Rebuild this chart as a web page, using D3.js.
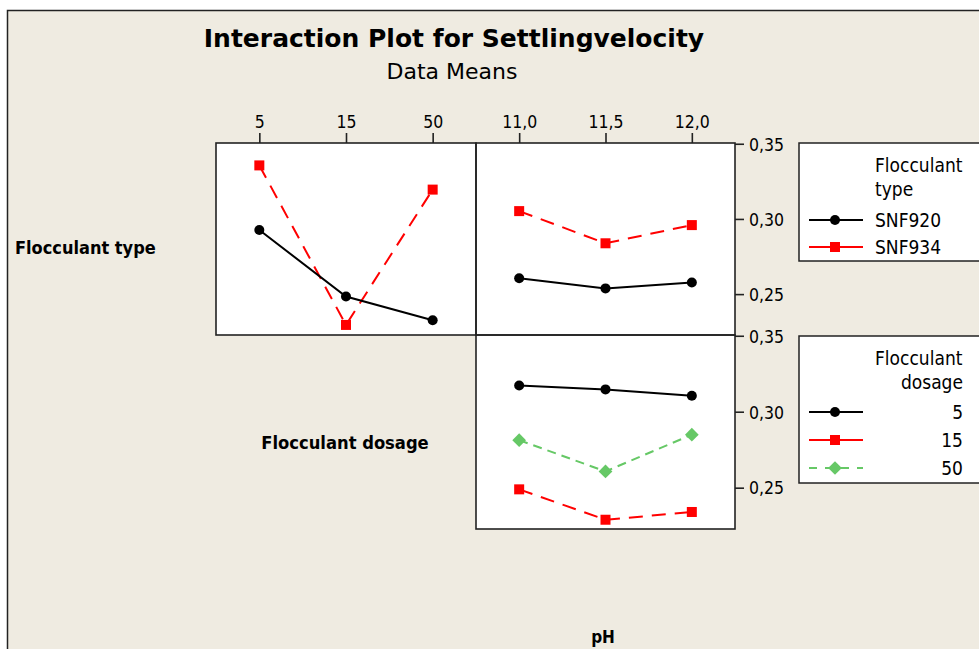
<!DOCTYPE html>
<html>
<head>
<meta charset="utf-8">
<script src="https://cdn.jsdelivr.net/npm/d3@7"></script>
<style>
  html, body { margin: 0; padding: 0; background: #ffffff; }
  svg { display: block; }
  .cond { font-family: "DejaVu Sans Condensed", "DejaVu Sans", sans-serif; font-stretch: condensed; }
</style>
</head>
<body>
<svg id="chart" width="979" height="649"></svg>
<script>
// ---------------- data ----------------
const title = "Interaction Plot for Settlingvelocity";
const subtitle = "Data Means";
const dosageLevels = ["5", "15", "50"];
const pHLevels = ["11,0", "11,5", "12,0"];
const typeLevels = ["SNF920", "SNF934"];
const yTicks = [0.25, 0.30, 0.35];
const yTickLabels = ["0,25", "0,30", "0,35"];

// Flocculant type (series) vs Flocculant dosage (x)
const snf920ByDosage = [0.2926, 0.2484, 0.2326];
const snf934ByDosage = [0.3356, 0.2295, 0.3195];
// Flocculant type (series) vs pH (x)
const snf920ByPH = [0.2606, 0.2538, 0.2577];
const snf934ByPH = [0.3052, 0.2838, 0.2959];
// Flocculant dosage (series) vs pH (x)
const dose5ByPH = [0.3173, 0.3147, 0.3105];
const dose15ByPH = [0.2489, 0.2289, 0.2340];
const dose50ByPH = [0.2813, 0.2607, 0.2849];

// ---------------- styles ----------------
const BG = "#EFEBE1";
const styles = {
  black: { color: "#000000", dash: null, shape: "circle" },
  red:   { color: "#FF0000", dash: "14,9", shape: "square" },
  green: { color: "#66C866", dash: "9,6", shape: "diamond" }
};

const svg = d3.select("#chart");

// background frame
svg.append("rect").attr("x", 0).attr("y", 0).attr("width", 979).attr("height", 649).attr("fill", "#ffffff");
svg.append("rect").attr("x", 7.5).attr("y", 10.5).attr("width", 990).attr("height", 660)
  .attr("fill", BG).attr("stroke", "#222").attr("stroke-width", 1.5);

// titles
svg.append("text").attr("x", 454).attr("y", 47).attr("text-anchor", "middle")
  .attr("font-family", "DejaVu Sans").attr("font-weight", "bold").attr("font-size", 25)
  .attr("fill", "#000").text(title);
svg.append("text").attr("x", 452).attr("y", 79).attr("text-anchor", "middle")
  .attr("font-family", "DejaVu Sans").attr("font-size", 22)
  .attr("fill", "#000").text(subtitle);

// layout of panels
const colX = [[216, 476], [476, 735]];
const rowY = [[143, 335], [335, 529]];
const yDomain = [0.2228, 0.3505];

function xScale(col, levels) {
  return d3.scalePoint().domain(levels).range(colX[col]).padding(0.5);
}
function yScale(row) {
  return d3.scaleLinear().domain(yDomain).range([rowY[row][1], rowY[row][0]]);
}

function panelRect(col, row) {
  svg.append("rect")
    .attr("x", colX[col][0]).attr("y", rowY[row][0])
    .attr("width", colX[col][1] - colX[col][0]).attr("height", rowY[row][1] - rowY[row][0])
    .attr("fill", "#ffffff");
}
function panelBorder(col, row) {
  svg.append("rect")
    .attr("x", colX[col][0]).attr("y", rowY[row][0])
    .attr("width", colX[col][1] - colX[col][0]).attr("height", rowY[row][1] - rowY[row][0])
    .attr("fill", "none").attr("stroke", "#222").attr("stroke-width", 1.6);
}

function marker(g, shape, x, y, color) {
  if (shape === "circle") {
    g.append("circle").attr("cx", x).attr("cy", y).attr("r", 5).attr("fill", color);
  } else if (shape === "square") {
    g.append("rect").attr("x", x - 5).attr("y", y - 5).attr("width", 10).attr("height", 10).attr("fill", color);
  } else {
    g.append("path").attr("d", d3.symbol(d3.symbolDiamond2, 120)()).attr("transform", `translate(${x},${y})`).attr("fill", color);
  }
}

function drawSeries(col, row, levels, values, st) {
  const x = xScale(col, levels), y = yScale(row);
  const g = svg.append("g");
  const line = d3.line().x((d, i) => x(levels[i])).y(d => y(d));
  g.append("path").datum(values).attr("d", line).attr("fill", "none")
    .attr("stroke", st.color).attr("stroke-width", 2)
    .attr("stroke-dasharray", st.dash);
  values.forEach((v, i) => marker(g, st.shape, x(levels[i]), y(v), st.color));
}

// panels
panelRect(0, 0); panelRect(1, 0); panelRect(1, 1);

drawSeries(0, 0, dosageLevels, snf934ByDosage, styles.red);
drawSeries(0, 0, dosageLevels, snf920ByDosage, styles.black);
drawSeries(1, 0, pHLevels, snf934ByPH, styles.red);
drawSeries(1, 0, pHLevels, snf920ByPH, styles.black);
drawSeries(1, 1, pHLevels, dose5ByPH, styles.black);
drawSeries(1, 1, pHLevels, dose15ByPH, styles.red);
drawSeries(1, 1, pHLevels, dose50ByPH, styles.green);

panelBorder(0, 0); panelBorder(1, 0); panelBorder(1, 1);

// top x axes
function topAxis(col, levels) {
  const x = xScale(col, levels);
  const ax = d3.axisTop(x).tickSize(10).tickSizeOuter(0);
  const g = svg.append("g").attr("transform", `translate(0,${rowY[0][0]})`).call(ax);
  g.select(".domain").remove();
  g.selectAll(".tick line").attr("stroke", "#222").attr("stroke-width", 1.6);
  g.selectAll(".tick text").attr("class", "cond").attr("font-size", 17.5).attr("fill", "#000")
    .attr("y", -15).attr("dy", 0);
}
topAxis(0, dosageLevels);
topAxis(1, pHLevels);

// right y axes
function rightAxis(row) {
  const y = yScale(row);
  const ax = d3.axisRight(y).tickValues(yTicks).tickSize(9).tickSizeOuter(0)
    .tickFormat((d, i) => yTickLabels[i]);
  const g = svg.append("g").attr("transform", `translate(${colX[1][1]},0)`).call(ax);
  g.select(".domain").remove();
  g.selectAll(".tick line").attr("stroke", "#222").attr("stroke-width", 1.6);
  g.selectAll(".tick text").attr("class", "cond").attr("font-size", 17.5).attr("fill", "#000")
    .attr("x", 14).attr("dy", "0.36em");
}
rightAxis(0);
rightAxis(1);

// row / column labels
svg.append("text").attr("class", "cond").attr("x", 15).attr("y", 254)
  .attr("font-weight", "bold").attr("font-size", 18).attr("fill", "#000").text("Flocculant type");
svg.append("text").attr("class", "cond").attr("x", 345).attr("y", 449).attr("text-anchor", "middle")
  .attr("font-weight", "bold").attr("font-size", 18.2).attr("fill", "#000").text("Flocculant dosage");
svg.append("text").attr("class", "cond").attr("x", 603).attr("y", 643).attr("text-anchor", "middle")
  .attr("font-weight", "bold").attr("font-size", 17).attr("fill", "#000").text("pH");

// legends
function legend(top, height, headerLines, headerAnchor, labels, styleList, labelAnchor, itemBaselines) {
  svg.append("rect").attr("x", 799).attr("y", top).attr("width", 200).attr("height", height)
    .attr("fill", "#ffffff").attr("stroke", "#222").attr("stroke-width", 1.5);
  headerLines.forEach((t, i) => {
    svg.append("text").attr("class", "cond").attr("font-size", 19).attr("fill", "#000")
      .attr("x", headerAnchor[i] === "end" ? 963 : 875).attr("text-anchor", headerAnchor[i])
      .attr("y", top + 29 + i * 24).text(t);
  });
  labels.forEach((t, i) => {
    const by = top + itemBaselines[i];
    const cy = by - 7;
    const st = styleList[i];
    const g = svg.append("g");
    g.append("line").attr("x1", 809).attr("x2", 863).attr("y1", cy).attr("y2", cy)
      .attr("stroke", st.color).attr("stroke-width", 2)
      .attr("stroke-dasharray", st.shape === "diamond" ? "8,8" : null);
    marker(g, st.shape, 835, cy, st.color);
    svg.append("text").attr("class", "cond").attr("font-size", 19).attr("fill", "#000")
      .attr("x", labelAnchor === "end" ? 963 : 875).attr("text-anchor", labelAnchor)
      .attr("y", by).text(t);
  });
}
legend(143, 118, ["Flocculant", "type"], ["start", "start"], typeLevels,
  [styles.black, styles.red], "start", [84, 111]);
legend(336, 147, ["Flocculant", "dosage"], ["start", "end"], dosageLevels,
  [styles.black, styles.red, styles.green], "end", [83, 111, 139]);
</script>
</body>
</html>
